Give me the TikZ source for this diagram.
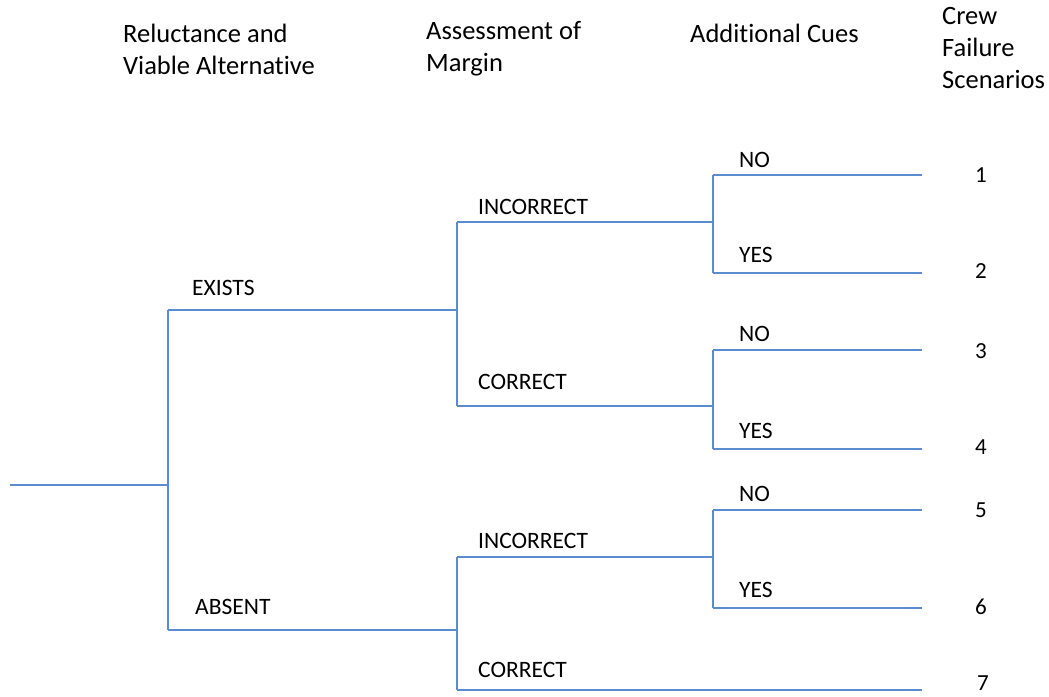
\documentclass[tikz,border=0pt]{standalone}
\usepackage{fontspec}
\setmainfont[Ligatures={NoCommon}]{Carlito}
\begin{document}
\begin{tikzpicture}[x=1pt,y=-1pt,
  branch/.style={draw=treeblue,line width=2.8pt},
  head/.style={anchor=west,inner sep=0pt,align=left,font=\fontsize{26.5}{32}\selectfont},
  lbl/.style={anchor=west,inner sep=0pt,font=\fontsize{23.5}{24}\selectfont},
  num/.style={anchor=center,inner sep=0pt,font=\fontsize{23}{24}\selectfont}]
\definecolor{treeblue}{HTML}{5B8BD0}
\useasboundingbox (0,0) rectangle (1049,696);

% column headings
\node[head] (h1) at (123,49) {Reluctance and\\Viable Alternative};
\node[head] (h2) at (426,49) {Assessment of\\Margin};
\node[head] (h3) at (690,33) {Additional Cues};
\node[head] (h4) at (942,48) {Crew\\Failure\\Scenarios};

% junction points
\coordinate (root) at (10,485);
\coordinate (j0) at (168,485);
\coordinate (e) at (168,310);
\coordinate (a) at (168,630);
\coordinate (je) at (457,310);
\coordinate (ja) at (457,630);
% first level: EXISTS / ABSENT
\coordinate (ei) at (457,222);
\coordinate (ec) at (457,406);
\coordinate (ai) at (457,557);
\coordinate (ac) at (457,690);
% second level junctions
\coordinate (k1) at (713,222);
\coordinate (k2) at (713,406);
\coordinate (k3) at (713,557);
% end branches
\coordinate (n1s) at (713,175) ; \coordinate (n1) at (922,175);
\coordinate (y1s) at (713,273) ; \coordinate (y1) at (922,273);
\coordinate (n2s) at (713,350) ; \coordinate (n2) at (922,350);
\coordinate (y2s) at (713,449) ; \coordinate (y2) at (922,449);
\coordinate (n3s) at (713,510) ; \coordinate (n3) at (922,510);
\coordinate (y3s) at (713,608) ; \coordinate (y3) at (922,608);
\coordinate (c7) at (922,690);

% tree
\draw[branch] (root) -- (j0);
\draw[branch] (e) -- (a);
\draw[branch] (e) -- (je);
\draw[branch] (a) -- (ja);
\draw[branch] (ei) -- (ec);
\draw[branch] (ai) -- (ac);
\draw[branch] (ei) -- (k1);
\draw[branch] (ec) -- (k2);
\draw[branch] (ai) -- (k3);
\draw[branch] (ac) -- (c7);
\draw[branch] (n1s) -- (y1s);
\draw[branch] (n2s) -- (y2s);
\draw[branch] (n3s) -- (y3s);
\draw[branch] (n1s) -- (n1);
\draw[branch] (y1s) -- (y1);
\draw[branch] (n2s) -- (n2);
\draw[branch] (y2s) -- (y2);
\draw[branch] (n3s) -- (n3);
\draw[branch] (y3s) -- (y3);

% branch labels
\node[lbl] (lex) at (192,288) {EXISTS};
\node[lbl] (lab) at (195,607) {ABSENT};
\node[lbl] (li1) at (478,207) {INCORRECT};
\node[lbl] (lc1) at (478,382) {CORRECT};
\node[lbl] (li2) at (478,541) {INCORRECT};
\node[lbl] (lc2) at (478,670) {CORRECT};
\node[lbl] (ln1) at (739,160) {NO};
\node[lbl] (ly1) at (739,255) {YES};
\node[lbl] (ln2) at (739,334) {NO};
\node[lbl] (ly2) at (739,431) {YES};
\node[lbl] (ln3) at (739,494) {NO};
\node[lbl] (ly3) at (739,590) {YES};

% scenario numbers
\node[num] (s1) at (981,175) {1};
\node[num] (s2) at (981,271) {2};
\node[num] (s3) at (981,351) {3};
\node[num] (s4) at (981,447) {4};
\node[num] (s5) at (981,510) {5};
\node[num] (s6) at (981,607) {6};
\node[num] (s7) at (983,683) {7};
\end{tikzpicture}
\end{document}
